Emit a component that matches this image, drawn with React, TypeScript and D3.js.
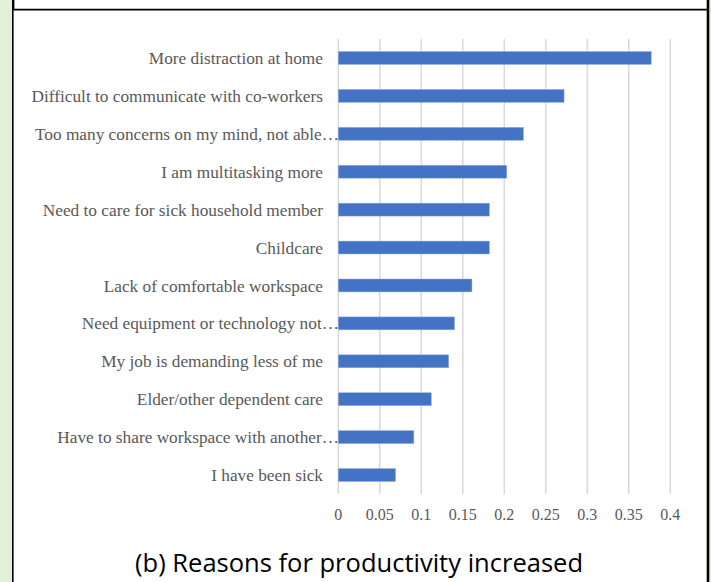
import React from "react";
import * as d3 from "d3";

const categories = [
  "More distraction at home",
  "Difficult to communicate with co-workers",
  "Too many concerns on my mind, not able…",
  "I am multitasking more",
  "Need to care for sick household member",
  "Childcare",
  "Lack of comfortable workspace",
  "Need equipment or technology not…",
  "My job is demanding less of me",
  "Elder/other dependent care",
  "Have to share workspace with another…",
  "I have been sick",
];
const values = [0.377, 0.272, 0.223, 0.203, 0.182, 0.182, 0.161, 0.14, 0.133, 0.112, 0.091, 0.069];
const ticks = [0, 0.05, 0.1, 0.15, 0.2, 0.25, 0.3, 0.35, 0.4];
const tickLabels = ["0", "0.05", "0.1", "0.15", "0.2", "0.25", "0.3", "0.35", "0.4"];
const caption = "(b) Reasons for productivity increased";

const W = 711;
const H = 582;

export default function App() {
  const x = d3.scaleLinear().domain([0, 0.4]).range([338.3, 670.3]);
  const y = d3.scaleBand<string>().domain(categories).range([39, 494]).padding(0);
  const bh = y.bandwidth() * 0.34;
  const serif = "'Liberation Serif', 'Times New Roman', serif";
  return (
    <svg
      width={W}
      height={H}
      style={{ position: "absolute", left: 0, top: 0, background: "#fff" }}
    >
      <rect x={0} y={0} width={W} height={H} fill="#ffffff" />
      {/* green side strips */}
      <rect x={0} y={0} width={12} height={H} fill="#e2efd9" />
      <rect x={709.5} y={0} width={1.5} height={H} fill="#e2efd9" />
      {/* frame */}
      <line x1={12.8} x2={12.8} y1={0} y2={H} stroke="#000" strokeWidth={1.6} />
      <line x1={13.6} x2={13.6} y1={0} y2={9} stroke="#000" strokeWidth={1.6} />
      <line x1={708} x2={708} y1={0} y2={H} stroke="#000" strokeWidth={2.6} />
      <line x1={12} x2={708} y1={9.6} y2={9.6} stroke="#000" strokeWidth={1.6} />
      {/* gridlines */}
      {ticks.map((t) => (
        <line
          key={"g" + t}
          x1={x(t)}
          x2={x(t)}
          y1={39}
          y2={494}
          stroke="#d9d9d9"
          strokeWidth={1.5}
        />
      ))}
      {/* bars */}
      {categories.map((c, i) => (
        <rect
          key={c}
          x={x(0)}
          y={(y(c) as number) + (y.bandwidth() - bh) / 2}
          width={x(values[i]) - x(0)}
          height={bh}
          fill="#4472c4"
          stroke="#8faadc"
          strokeWidth={0.5}
        />
      ))}
      {/* category labels */}
      {categories.map((c) => {
        const trunc = c.endsWith("…");
        return (
          <text
            key={"l" + c}
            x={trunc ? 339 : 323}
            y={(y(c) as number) + y.bandwidth() / 2}
            dy="0.35em"
            textAnchor="end"
            fontFamily={serif}
            fontSize={17.3}
            fill="#595959"
          >
            {c}
          </text>
        );
      })}
      {/* tick labels */}
      {ticks.map((t, i) => (
        <text
          key={"t" + t}
          x={x(t)}
          y={520}
          textAnchor="middle"
          fontFamily={serif}
          fontSize={16}
          fill="#595959"
        >
          {tickLabels[i]}
        </text>
      ))}
      {/* caption */}
      <text
        x={359}
        y={572}
        textAnchor="middle"
        fontFamily="'Open Sans', 'Noto Sans', sans-serif"
        fontSize={25}
        textLength={448}
        lengthAdjust="spacingAndGlyphs"
        fill="#000"
      >
        {caption}
      </text>
    </svg>
  );
}
